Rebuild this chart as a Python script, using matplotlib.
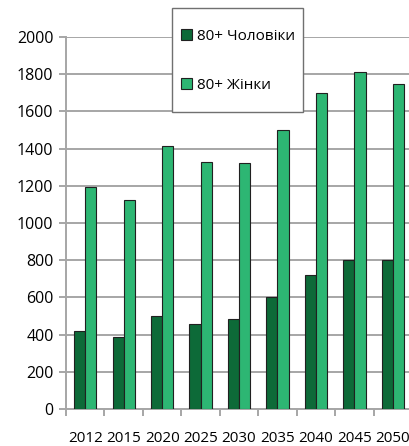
import numpy as np
import matplotlib
matplotlib.use("Agg")
import matplotlib.pyplot as plt
from matplotlib.patches import Rectangle

years = ["2012", "2015", "2020", "2025", "2030", "2035", "2040", "2045", "2050"]
men_80 = [418, 387, 500, 455, 485, 600, 720, 800, 800]
women_80 = [1192, 1122, 1412, 1330, 1325, 1502, 1697, 1812, 1750]

plt.rcParams["font.family"] = ["Open Sans", "DejaVu Sans"]
DARK, LIGHT, GRID = "#0d6a38", "#2db673", "#a6a6a6"

W, H = 410, 446
fig = plt.figure(figsize=(W / 100, H / 100), dpi=100)
ax = fig.add_axes([0.161, 0.083, 0.844, 0.834])

x = np.arange(len(years))
w = 0.29
ax.bar(x - w / 2, men_80, w, color=DARK, edgecolor="#202020", lw=0.8,
       label="80+ Чоловіки", zorder=3)
ax.bar(x + w / 2, women_80, w, color=LIGHT, edgecolor="#202020", lw=0.8,
       label="80+ Жінки", zorder=3)

ax.set_xlim(-0.5, len(years) - 0.5)
ax.set_ylim(0, 2000)
ax.set_yticks(range(0, 2001, 200))
ax.grid(axis="y", color=GRID, lw=1.4, zorder=0)

# category labels sit well below the axis, ticks at category boundaries
ax.set_xticks(x)
ax.set_xticklabels(years, fontsize=11)
ax.tick_params(axis="x", length=0, pad=16)
ax.set_xticks(np.arange(len(years) + 1) - 0.5, minor=True)
ax.tick_params(axis="x", which="minor", length=5, color=GRID, width=1.4)
ax.tick_params(axis="y", length=5, color=GRID, width=1.4, labelsize=11.5, pad=4)

for s in ["top", "right"]:
    ax.spines[s].set_visible(False)
for s in ["left", "bottom"]:
    ax.spines[s].set_color(GRID)
    ax.spines[s].set_linewidth(1.4)

# legend box drawn separately so its padding can be taller than wide
box = Rectangle((172 / W, 1 - 112 / H), 131 / W, 104 / H, transform=fig.transFigure,
                facecolor="white", edgecolor="#707070", lw=1.0, zorder=5)
fig.patches.append(box)
handles, labels = ax.get_legend_handles_labels()
leg = fig.legend(handles, labels, loc="center left",
                 bbox_to_anchor=(181 / W, 1 - 61 / H), fontsize=11, frameon=False,
                 handlelength=0.75, handleheight=0.75, handletextpad=0.3,
                 labelspacing=2.25, borderpad=0, borderaxespad=0)
leg.set_zorder(6)
for h in leg.legend_handles:
    h.set_edgecolor("#202020")

fig.savefig("out.png", dpi=100)
